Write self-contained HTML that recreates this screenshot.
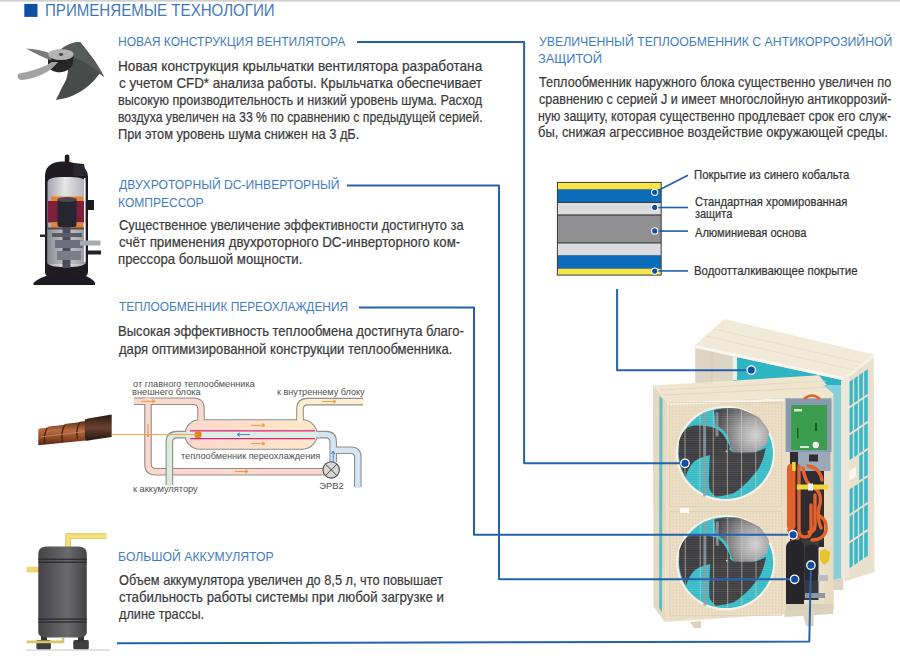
<!DOCTYPE html>
<html><head><meta charset="utf-8"><style>
html,body{margin:0;padding:0;background:#fff;}
#c{position:relative;width:900px;height:669px;overflow:hidden;background:#fff;}
.t{position:absolute;white-space:pre;font-family:"Liberation Sans",sans-serif;line-height:1;transform-origin:0 0;}
.b{-webkit-text-stroke:0.2px currentColor;}
svg{position:absolute;left:0;top:0;}
</style></head><body><div id="c">
<svg width="900" height="669" viewBox="0 0 900 669">
<defs>
  <radialGradient id="metal" gradientUnits="userSpaceOnUse" cx="26" cy="-20" r="38" fx="30" fy="-18">
    <stop offset="0" stop-color="#d2d2d3"/><stop offset="0.4" stop-color="#a4a4a6"/><stop offset="0.8" stop-color="#626264"/><stop offset="1" stop-color="#444446"/>
  </radialGradient>
  <linearGradient id="acc" x1="0" y1="0" x2="1" y2="0">
    <stop offset="0" stop-color="#444446"/><stop offset="0.6" stop-color="#6a6a6c"/><stop offset="1" stop-color="#434345"/>
  </linearGradient>
  <linearGradient id="vessel" x1="0" y1="0" x2="1" y2="0">
    <stop offset="0" stop-color="#fbd8cc"/><stop offset="1" stop-color="#fde8c9"/>
  </linearGradient>
  <linearGradient id="copper" x1="0" y1="0" x2="0" y2="1">
    <stop offset="0" stop-color="#5e2c16"/><stop offset="0.4" stop-color="#b86c44"/><stop offset="0.7" stop-color="#8e4a28"/><stop offset="1" stop-color="#5a2810"/>
  </linearGradient>
  <linearGradient id="sheath" x1="0" y1="0" x2="0" y2="1">
    <stop offset="0" stop-color="#2a1a12"/><stop offset="0.5" stop-color="#6a4030"/><stop offset="1" stop-color="#241610"/>
  </linearGradient>
</defs>
<!-- top gray rule -->
<rect x="0" y="0" width="900" height="1.6" fill="#cfcfcf"/>
<!-- title square -->
<rect x="24.3" y="3.9" width="13.2" height="13" fill="#0f4fa2"/>


<!-- ===== fan impeller ===== -->
<g id="impeller">
  <!-- big dark blade -->
  <path d="M60,50 C66,45 74,42 80,42.1 C88,52 98,64 104.2,77.1 L99.5,73.7 C96,78 93,82 90.8,83.8 C86,88 82,91 77.3,93.3 C72,96 68,98 63.8,98.6 L55.8,100 C58,96 60,92 61.1,89.2 C64,84 66,80 66.5,78.5 C67.5,75 68,72 67.9,70.4 C67.5,67 67,65 66.5,63.6 Z" fill="#474b4a"/>
  <path d="M62,48.5 C68,44.5 74,42 80,42.1 C88,52 98,64 104.2,77.1 C94,68 84,60 70,56 Z" fill="#575b59"/>
  <!-- hub body -->
  <path d="M48,54 L48,66 C50,71 56,73 62,72 C68,71 72,67 73,63 L74,54 Z" fill="#262626"/>
  <!-- left thin blade -->
  <path d="M26,48.6 C34,49 44,50.5 52,54.5 L51,60.5 C42,57 34,53 26,48.6 Z" fill="#7a7a7a"/>
  <!-- lower-left light blade -->
  <path d="M18,74 C24,72 40,70 52,62 L58,62 C52,70 40,78 22,80 C18,80 17,77 18,74 Z" fill="#a3a3a3"/>
  <!-- hub top -->
  <ellipse cx="61" cy="54.5" rx="12.6" ry="5.6" fill="#b4b4b4"/>
  <ellipse cx="61" cy="54.5" rx="2.2" ry="1.4" fill="#4a4a4a"/>
</g>

<!-- ===== compressor ===== -->
<g id="compressor">
  <linearGradient id="cgray" x1="0" y1="0" x2="1" y2="0">
    <stop offset="0" stop-color="#a4a4aa"/><stop offset="0.45" stop-color="#e6e6e8"/><stop offset="1" stop-color="#b0b0b6"/>
  </linearGradient>
  <linearGradient id="cgray2" x1="0" y1="0" x2="1" y2="0">
    <stop offset="0" stop-color="#8a8a92"/><stop offset="0.5" stop-color="#c8c8cc"/><stop offset="1" stop-color="#9a9aa2"/>
  </linearGradient>
  <rect x="64.8" y="154.5" width="4.6" height="14" rx="2" fill="#1f1c26"/>
  <path d="M33.5,283 C36,280 40,278 46,276 L86,276 C90,278 94,280 95,283 L95,285 L33.5,285 Z" fill="#1d1a24"/>
  <path d="M45,176 C45,168 50,163 58,162 C66,161 70,162 74,163 L80,165 C86,168 88,172 88,178 L88,272 C88,277 82,279 66,279 C50,279 45,277 45,272 Z" fill="#1e1b25"/>
  <path d="M74,163 L84,164 L86,176 L74,176 Z" fill="#2a2732"/>
  <path d="M47.5,182 C48,178 54,177 66,177 C78,177 85,178 85.5,182 L85.5,262 C85.5,266 78,267 66,267 C54,267 47.5,266 47.5,262 Z" fill="url(#cgray)"/>
  <rect x="47.5" y="229" width="38" height="35" fill="url(#cgray2)"/>
  <rect x="48" y="201" width="38" height="21.5" fill="#7e1f3c"/>
  <rect x="51" y="196.5" width="32" height="4.5" fill="#e9832e"/>
  <rect x="51" y="222.5" width="32" height="5.5" fill="#e9832e"/>
  <rect x="57.5" y="198" width="19" height="29" rx="2.5" fill="#27252f"/>
  <ellipse cx="67" cy="199.5" rx="9.5" ry="2.5" fill="#4a4852"/>
  <rect x="62.5" y="227" width="8" height="41" fill="#4a4c58"/>
  <rect x="52" y="233" width="30" height="4" fill="#5a5c68"/>
  <rect x="55" y="240" width="28" height="8" fill="#6e7080"/>
  <rect x="57" y="251" width="24" height="9" fill="#7a7c8a"/>
  <rect x="47.5" y="227.5" width="38" height="2" fill="#4f4d58"/>
  <rect x="84" y="178" width="1.5" height="84" fill="#f4f4f6"/>
  <rect x="88" y="200" width="6" height="10" fill="#1e1b25"/>
  <rect x="80" y="240.5" width="20.5" height="5" fill="#a8aab2"/>
  <rect x="88" y="250.5" width="13" height="4" fill="#24212b"/>
  <rect x="40" y="234.5" width="6" height="2.5" fill="#24212b"/>
</g>
<!-- ===== accumulator ===== -->
<g id="accum">
  <line x1="26" y1="650" x2="110" y2="650" stroke="#dadada" stroke-width="1.6"/>
  <path d="M68.2,547 V536.2 H106.3" fill="none" stroke="#dcc35a" stroke-width="5.8"/>
  <path d="M68.2,547 V536.2 H106.3" fill="none" stroke="#f4df78" stroke-width="4"/>
  <rect x="26.7" y="566.7" width="12" height="5.8" fill="#eed66e"/>
  <rect x="36.4" y="640" width="14.5" height="9.3" rx="1.5" fill="#3f3f41"/>
  <rect x="73.3" y="640" width="15.5" height="9.3" rx="1.5" fill="#3f3f41"/>
  <rect x="41" y="636" width="6" height="6" fill="#333"/><rect x="78" y="636" width="6" height="6" fill="#333"/>
  <path d="M38.3,554 C38.3,548 42,546.4 50,546.4 L75,546.4 C83,546.4 86.8,548 86.8,554 L86.8,632 C86.8,636 83,637.6 78,637.6 L47,637.6 C42,637.6 38.3,636 38.3,632 Z" fill="url(#acc)"/>
  <rect x="38.3" y="558.6" width="48.5" height="1.3" fill="#2c2c2e"/><rect x="38.3" y="561.6" width="48.5" height="1.3" fill="#2c2c2e"/>
  <rect x="38.3" y="618.4" width="48.5" height="1.3" fill="#2c2c2e"/><rect x="38.3" y="621.4" width="48.5" height="1.3" fill="#2c2c2e"/>
  <path d="M26.7,641.9 H63 V638" fill="none" stroke="#d9c46a" stroke-width="2.6"/>
</g>

<!-- ===== layer box ===== -->
<g id="layers">
  <rect x="556.9" y="181.9" width="104.8" height="93.7" fill="#3a3a3a"/>
  <rect x="557.9" y="182.9" width="102.8" height="6.6" fill="#f8e446"/>
  <rect x="557.9" y="189.5" width="102.8" height="12.6" fill="#0b6cb9"/>
  <rect x="557.9" y="203" width="102.8" height="11.4" fill="#dcdbde"/>
  <rect x="557.9" y="215.6" width="102.8" height="26.8" fill="#8f8f92"/>
  <rect x="557.9" y="243.5" width="102.8" height="12" fill="#dcdbde"/>
  <rect x="557.9" y="255.5" width="102.8" height="13.2" fill="#0b6cb9"/>
  <rect x="557.9" y="268.7" width="102.8" height="5.9" fill="#f8e446"/>
  <g fill="none" stroke="#1f5caa" stroke-width="1.6">
    <path d="M658,190.5 L688,175.2"/>
    <path d="M658,207.5 H688"/><path d="M658,231.1 H688"/><path d="M658,270.9 H688"/>
  </g>
  <g fill="#0f4ea0" stroke="#ffffff" stroke-width="1.1">
    <circle cx="654.7" cy="192.3" r="3.1"/><circle cx="654.7" cy="207.4" r="3.1"/>
    <circle cx="654.7" cy="230.9" r="3.1"/><circle cx="654.7" cy="271.1" r="3.1"/>
  </g>
</g>


<!-- ===== subcooling diagram ===== -->
<g id="diagram">
  <!-- pink pipes outline -->
  <g fill="none" stroke-linejoin="round" stroke-linecap="butt">
    <path d="M134,401.3 H193 Q201,401.3 201,409 V422" stroke="#8e8e8e" stroke-width="7.6"/>
    <path d="M148,401.3 V464 Q148,471.7 156,471.7 H324" stroke="#8e8e8e" stroke-width="7.6"/>
    <path d="M134,401.3 H193 Q201,401.3 201,409 V424" stroke="#fbd8cc" stroke-width="5.4"/>
    <path d="M148,398 V464 Q148,471.7 156,471.7 H324" stroke="#fbd8cc" stroke-width="5.4"/>
    <!-- top right yellow pipe -->
    <path d="M300,422 V409 Q300,401.6 308,401.6 H363" stroke="#8e8e8e" stroke-width="7.6"/>
    <path d="M300,424 V409 Q300,401.6 308,401.6 H364" stroke="#fdeed0" stroke-width="5.4"/>
    <!-- green pipe -->
    <path d="M190,434.6 H177 Q169.4,434.6 169.4,442 V485" stroke="#8e8e8e" stroke-width="7.6"/>
    <path d="M192,434.6 H177 Q169.4,434.6 169.4,442 V486" stroke="#dcebd8" stroke-width="5.4"/>
    <!-- blue pipes -->
    <path d="M312,434.6 H326 Q333.2,434.6 333.2,442 V462" stroke="#8e8e8e" stroke-width="7.6"/>
    <path d="M333,450.2 H351 Q357.8,450.2 357.8,457 V487" stroke="#8e8e8e" stroke-width="7.6"/>
    <path d="M312,434.6 H326 Q333.2,434.6 333.2,442 V462" stroke="#d3e5f2" stroke-width="5.4"/>
    <path d="M336,450.2 H351 Q357.8,450.2 357.8,457 V488" stroke="#d3e5f2" stroke-width="5.4"/>
  </g>
  <!-- vessel -->
  <rect x="185" y="419.8" width="132" height="29.4" rx="14.7" fill="url(#vessel)" stroke="#8e8e8e" stroke-width="1.1"/>
  <rect x="198.3" y="417" width="5.4" height="5" fill="#fbd8cc"/>
  <rect x="297.3" y="417" width="5.4" height="5" fill="#fdeed0"/>
  <rect x="183" y="431.9" width="10" height="5.4" fill="#dcebd8"/>
  <rect x="310" y="431.9" width="10" height="5.4" fill="#d3e5f2"/>
  <rect x="187" y="431" width="129" height="7.4" fill="#dceee4"/>
  <path d="M190,430.8 H315 M190,438.6 H315" stroke="#e0207a" stroke-width="1.3"/>
  <!-- arrows -->
  <g stroke="#f0902a" stroke-width="0.9" fill="none">
    <path d="M141,401.3 H155 M152,399.6 L155,401.3 L152,403"/>
    <path d="M148,424 V437 M146.4,434 L148,437 L149.6,434"/>
    <path d="M251,425.3 H265 M262,423.6 L265,425.3 L262,427"/>
    <path d="M251,443.6 H265 M262,441.9 L265,443.6 L262,445.3"/>
    <path d="M322,401.6 H336 M333,399.9 L336,401.6 L333,403.3"/>
    <path d="M235,471.5 H248 M245,469.8 L248,471.5 L245,473.2"/>
  </g>
  <g stroke="#2a7ad0" stroke-width="0.9" fill="none">
    <path d="M237,434.6 H250 M240,432.9 L237,434.6 L240,436.3"/>
    <path d="M333.2,463 V451 M331.5,454 L333.2,451 L334.9,454"/>
  </g>
  <!-- valve -->
  <circle cx="331.2" cy="469.9" r="8.2" fill="#d6d6d6" stroke="#4a4a4a" stroke-width="1.1"/>
  <path d="M325.4,464.1 L337,475.7 M337,464.1 L325.4,475.7" stroke="#4a4a4a" stroke-width="1"/>
  <circle cx="198" cy="434.7" r="3.6" fill="#ea7e18"/>
</g>

<!-- ===== copper tube ===== -->
<g id="copper">
  <path d="M38.3,429.5 L40,428.6 L46,428 L49,426.5 L63,425 L66,423.8 L78,422.4 L81,421.5 L91,420.8 L91,440.1 L38.3,445.2 Z" fill="url(#copper)"/>
  <path d="M47,428 q-4,8 -2,16 M64.5,425.2 q-4,8 -2,16.3 M79.5,422.5 q-4,8 -2,16.5" stroke="#4a1e0a" stroke-width="1.3" fill="none"/>
  <path d="M40,437 L90,431" stroke="#d89a70" stroke-width="1.2" opacity="0.6"/>
  <path d="M84.8,419.5 L88,418.5 L111.7,414.4 L111.7,437 L86,440.7 L84.8,436 Z" fill="url(#sheath)"/>
  <line x1="111.7" y1="434.6" x2="198" y2="434.6" stroke="#f0a050" stroke-width="1"/>
</g>


<!-- ===== outdoor unit ===== -->
<defs>
  <g id="fan">
    <rect x="-56" y="-51" width="112" height="104" fill="url(#perf)" stroke="#d8ccb2" stroke-width="0.6"/><ellipse cx="0" cy="0" rx="49.6" ry="47.7" fill="#f6f2e8"/>
    <ellipse cx="0" cy="0" rx="47.4" ry="45.5" fill="#38bcc6"/>
    <!-- metallic top-right blade -->
    <path d="M-11.4,-43.2 C-4,-45 4,-45.5 12.1,-44.8 C22,-42 30,-38 34.1,-35.3 C40,-28 43,-24 43.5,-21.2 C43,-16 42,-13 41.9,-10.2 C38,-6 34,-4 30.9,-2.4 C24,0 18,1 12.1,0.8 C8,-1 6,-3 5.8,-5.5 C4,-10 3,-14 2.7,-16.5 C1,-20 -1,-22 -2,-22.8 C-6,-26 -9,-28 -9.9,-29.1 Z" fill="url(#metal)"/>
    <!-- bottom dark blade -->
    <path d="M-14,-4 C-6,-8 0,-8 2,-6 C5,-3 7,-1 9,-0.8 C15,-0.5 22,-0.8 27.8,-0.8 C33,-2 37,-4 40.3,-5.5 C39,1 37,8 34.1,13.3 C30,20 25,25 21.5,29 C16,34 11,38 7.4,40 C0,42 -5,43 -9.9,43.1 C-13,41 -15,38 -16.1,35.3 C-17,28 -16.5,20 -16.1,13.3 C-16,5 -15.5,0 -14,-4 Z" fill="#3f3f42"/>
    <!-- left dark blade -->
    <path d="M-46.5,-12 C-44,-20 -41,-24 -37,-26.5 C-30,-28.5 -20,-28.5 -8.3,-24.4 C-2,-20 1,-14 4.3,-7.1 C4,-3 1,0 -2,0 C-10,0 -22,2 -30,7 C-35,11 -38,17 -40,24 C-44,16 -46.5,8 -46.8,0 Z" fill="#3c3c3f"/>
    <rect x="-22.4" y="-41" width="3" height="84" fill="#8d9aa3" opacity="0.8"/>
    <rect x="-10" y="-41" width="3" height="24" fill="#8d9aa3" opacity="0.8"/>
    <circle cx="1" cy="-2" r="0.9" fill="#dddddd"/>
    <ellipse cx="0" cy="0" rx="47.4" ry="45.5" fill="url(#mesh)"/>
    <g stroke="#d2cbbb" stroke-width="0.9" opacity="0.7">
      <line x1="-40.5" y1="-24" x2="-40.5" y2="24"/><line x1="-25.6" y1="-38" x2="-25.6" y2="38"/>
      <line x1="-12.2" y1="-44" x2="-12.2" y2="44"/><line x1="1.9" y1="-45" x2="1.9" y2="45"/>
      <line x1="16" y1="-43" x2="16" y2="43"/><line x1="30.2" y1="-35" x2="30.2" y2="35"/>
    </g>
  </g>
  <pattern id="mesh" width="3" height="2.2" patternUnits="userSpaceOnUse">
    <rect x="0" y="0" width="3" height="0.6" fill="#ffffff" opacity="0.13"/>
  </pattern>
  <pattern id="perf" width="3.2" height="3.2" patternUnits="userSpaceOnUse">
    <circle cx="1.6" cy="1.6" r="0.55" fill="#cdbf9f" opacity="0.55"/>
  </pattern>
</defs>
<g id="unit">
  <!-- back unit right side face -->
  <path d="M844.4,380.5 L873.7,357.5 L874.5,572 L844.4,581.5 Z" fill="#e8dfcc"/>
  <g fill="#36b8c8">
    <polygon points="849.2,381.8 852.8,379.3 852.8,403.8 849.2,406.3"/>
    <polygon points="854.2,378.4 857.8,376.0 857.8,400.5 854.2,402.9"/>
    <polygon points="859.2,375.0 862.8,372.6 862.8,397.1 859.2,399.5"/>
    <polygon points="864.2,371.6 867.8,369.2 867.8,393.7 864.2,396.1"/>
    <polygon points="849.2,408.8 852.8,406.3 852.8,430.8 849.2,433.3"/>
    <polygon points="854.2,405.4 857.8,403.0 857.8,427.5 854.2,429.9"/>
    <polygon points="859.2,402.0 862.8,399.6 862.8,424.1 859.2,426.5"/>
    <polygon points="864.2,398.6 867.8,396.2 867.8,420.7 864.2,423.1"/>
    <polygon points="849.2,435.8 852.8,433.3 852.8,457.8 849.2,460.3"/>
    <polygon points="854.2,432.4 857.8,430.0 857.8,454.5 854.2,456.9"/>
    <polygon points="859.2,429.0 862.8,426.6 862.8,451.1 859.2,453.5"/>
    <polygon points="864.2,425.6 867.8,423.2 867.8,447.7 864.2,450.1"/>
    <polygon points="859.2,456.0 862.8,453.6 862.8,478.1 859.2,480.5"/>
    <polygon points="864.2,452.6 867.8,450.2 867.8,474.7 864.2,477.1"/>
    <polygon points="849.2,489.8 852.8,487.3 852.8,511.8 849.2,514.3"/>
    <polygon points="854.2,486.4 857.8,484.0 857.8,508.5 854.2,510.9"/>
    <polygon points="859.2,483.0 862.8,480.6 862.8,505.1 859.2,507.5"/>
    <polygon points="864.2,479.6 867.8,477.2 867.8,501.7 864.2,504.1"/>
    <polygon points="849.2,516.8 852.8,514.3 852.8,538.8 849.2,541.3"/>
    <polygon points="854.2,513.4 857.8,511.0 857.8,535.5 854.2,537.9"/>
    <polygon points="859.2,510.0 862.8,507.6 862.8,532.1 859.2,534.5"/>
    <polygon points="864.2,506.6 867.8,504.2 867.8,528.7 864.2,531.1"/>
    <polygon points="849.2,543.8 852.8,541.3 852.8,565.8 849.2,568.3"/>
    <polygon points="854.2,540.4 857.8,538.0 857.8,562.5 854.2,564.9"/>
    <polygon points="859.2,537.0 862.8,534.6 862.8,559.1 859.2,561.5"/>
    <polygon points="864.2,533.6 867.8,531.2 867.8,555.7 864.2,558.1"/>
  </g>
  <path d="M849,471 l7,-4.5 l0,10 l-7,4.5 Z" fill="#f8f6f2"/>
  <!-- back unit front face -->
  <path d="M695.2,345 L843.3,377.7 L843.3,590 L695.2,590 Z" fill="#ddd5c4"/>
  <path d="M733,356 L844.4,380.5 L844.4,578 L733,578 Z" fill="#2fb4c4"/>
  <path d="M732.7,356 L737.1,357 L737.1,380 L732.7,380 Z" fill="#eef0ea"/>
  <line x1="712" y1="350" x2="712" y2="390" stroke="#d5c9b0" stroke-width="1"/>
  <!-- back unit lid -->
  <path d="M724.3,318.9 L873.7,354.6 L844.4,377.6 L695.2,345 Z" fill="#f2ead8"/>
  <path d="M695.2,345 L844.4,377.6 L844.4,380.5 L695.2,348 Z" fill="#faf6ee"/>
  <path d="M844.4,377.6 L873.7,354.6 L873.7,357.5 L844.4,380.5 Z" fill="#f6f0e4"/>
  <g stroke="#e6dcc4" stroke-width="0.8">
    <line x1="714" y1="329" x2="862" y2="363"/>
    <line x1="706" y1="336" x2="854" y2="370"/>
  </g>

  <!-- front unit left side face -->
  <path d="M653,385.5 L667.5,402.5 L665,622 L653.4,606.5 Z" fill="#e6d9c0"/>
  <path d="M659.5,396 L662.5,399 L662,612 L659,608 Z" fill="#5fbec6"/>
  <!-- front face -->
  <path d="M667.5,402.5 L833.6,397 L833,611 L665,622 Z" fill="#ecdfc6"/>
  <!-- front lid -->
  <path d="M653,385.5 L819,375.3 L833.6,393.8 L833.6,397 L667.5,402.5 Z" fill="#f0e5cf"/>
  <path d="M667.5,402.5 L833.6,397 L833.6,399.5 L667.5,405 Z" fill="#f8f3e8"/>
  <g stroke="#e0d4ba" stroke-width="0.8">
    <line x1="660" y1="390" x2="826" y2="381"/>
    <line x1="664" y1="395" x2="830" y2="387"/>
  </g>
  <path d="M670,406 L784,402 L784,614 L668,620 Z" fill="url(#perf)"/>
  <use href="#fan" transform="translate(725.5,453.4)"/>
  <use href="#fan" transform="translate(725.8,562.6)"/>
  <rect x="680" y="508" width="9" height="5" fill="#fbfaf6"/>
  <!-- machine compartment -->
  <path d="M784.5,398.5 L833.6,397 L833.6,611 L784.5,614 Z" fill="#eadcc4"/>
  <rect x="786" y="452" width="38" height="154" fill="#e6ddca"/><rect x="790" y="452" width="34" height="95" fill="#2e2c30"/><rect x="801" y="540" width="18" height="60" fill="#3a393e"/>
  <rect x="824" y="398" width="9.6" height="212" fill="#e8dbc2"/>
  <rect x="785.6" y="398.4" width="45.9" height="53.6" fill="#8a9aae"/>
  <rect x="791.2" y="405" width="35.8" height="45" fill="#3a9e4e"/>
  <rect x="794" y="409" width="8" height="2.5" fill="#d8e8d0"/>
  <rect x="797" y="428" width="1.5" height="10" fill="#1e5a2a"/>
  <rect x="815" y="423" width="2" height="8" fill="#1e5a2a"/>
  <rect x="800" y="446" width="9" height="2" fill="#d8e8d0"/>
  <circle cx="815.8" cy="445" r="3.2" fill="#efefef"/>
  <rect x="798" y="452" width="32.4" height="19" fill="#9aa8b8"/>
  <rect x="809" y="454.5" width="9" height="7" fill="#2e2e34"/>
  <path d="M804,399 Q812,392 820,399" fill="none" stroke="#e2602a" stroke-width="2.5"/>
  <rect x="786" y="452" width="2" height="154" fill="#e8dfcc"/>
  <g fill="none" stroke="#e3622c" stroke-linecap="round">
    <path d="M791.2,468 V526" stroke-width="8.5"/>
    <path d="M799,466 V530 Q799,537 805,537 Q811,537 811,530 V505" stroke-width="3.4"/>
    <path d="M803,468 Q805,484 814,488 Q822,492 820,504 Q816,516 821,528" stroke-width="3.4"/>
    <path d="M808,466 Q820,468 822,480" stroke-width="3.4"/>
    <path d="M815,495 V525 Q815,532 809,532" stroke-width="3.4"/>
    <path d="M789,530 Q790,538 798,538" stroke-width="3.4"/>
    <path d="M812,540 Q824,540 826,530 Q827,520 820,516" stroke-width="3.4"/>
    <path d="M793,534 V541" stroke-width="3.4"/>
  </g>
  <rect x="796.8" y="484.5" width="31.3" height="5" fill="#ecd63c"/>
  <rect x="808" y="483.5" width="5" height="7" fill="#f2f2f2"/>
  <rect x="792" y="462" width="3.7" height="9" fill="#e8d43a"/>
  <path d="M786,548 C786,542 791,540 795,540 C800,540 804,542 804,548 L804,604 C804,607 800,608 795,608 C790,608 786,607 786,604 Z" fill="#262529"/>
  <path d="M805,550 C805,546 808,544.8 811.6,544.8 C815,544.8 818.2,546 818.2,550 L818.2,578 C818.2,580 815,581 811.6,581 C808,581 805,580 805,578 Z" fill="#29282c"/>
  <rect x="818.5" y="548" width="5.5" height="58" fill="#e8dfcc"/>
  <path d="M820,551 l5,-2 l5,3 l-1,9 l-5,4 l-4,-5 Z" fill="#e6c52c"/>
  <rect x="818" y="575" width="10" height="6" fill="#b8bcc4"/>
  <rect x="805" y="593" width="20" height="5" fill="#8a96a4"/>
  <rect x="786" y="604" width="47" height="7" fill="#d9cfba"/>
  <!-- teal strip right of compartment -->
  <path d="M823,385 L841,385 L841,577.3 L833.6,580 L833.6,393.8 Z" fill="#86d0da"/><path d="M841,381 L849.4,375 L849.4,578 L841,579 Z" fill="#efe8da"/>
  <!-- feet -->
  <path d="M690,622 L701,621 L701,628 L694,628 Z" fill="#ddd2bb"/>
  <path d="M802.6,614 L813.6,614 L813.6,626 L806,626 Z" fill="#ddd2bb"/>
  <path d="M784.5,611 L833,608 L833,614 L784.5,617 Z" fill="#ddd2bb"/>
</g>

<!-- connector lines -->
<g fill="none" stroke="#2462ae" stroke-width="2" stroke-linejoin="round">
  <path d="M357,42.1 H524.1 V463.3 H685"/>
  <path d="M347,185.5 H499 V579.3 H794.6"/>
  <path d="M359,307.4 H474 V534.7 H793"/>
  <path d="M116.8,643.3 L809.3,641.6 L810.9,565.2"/>
  <path d="M617.1,289 V370.3 H751.3"/>
</g>

<g fill="#0f4ea0" stroke="#ffffff" stroke-width="1.3">
  <circle cx="751.3" cy="370.1" r="4.2"/>
  <circle cx="685" cy="463.3" r="4.2"/>
  <circle cx="793.1" cy="534.7" r="4.2"/>
  <circle cx="794.6" cy="579.3" r="4.2"/>
  <circle cx="810.9" cy="565.2" r="4.2"/>
</g>
</svg>

<div class='t' style='left:45.07px;top:2.29px;font-size:16.2px;color:#3f78bf;transform:scaleX(0.9316)'>ПРИМЕНЯЕМЫЕ ТЕХНОЛОГИИ</div>
<div class='t' style='left:118.17px;top:36.08px;font-size:12.9px;color:#3f7dc2;transform:scaleX(0.9347)'>НОВАЯ КОНСТРУКЦИЯ ВЕНТИЛЯТОРА</div>
<div class='t' style='left:118.60px;top:178.58px;font-size:12.9px;color:#3f7dc2;transform:scaleX(0.9416)'>ДВУХРОТОРНЫЙ DC-ИНВЕРТОРНЫЙ</div>
<div class='t' style='left:117.66px;top:196.68px;font-size:12.9px;color:#3f7dc2;transform:scaleX(0.9356)'>КОМПРЕССОР</div>
<div class='t' style='left:118.80px;top:300.68px;font-size:12.9px;color:#3f7dc2;transform:scaleX(0.9226)'>ТЕПЛООБМЕННИК ПЕРЕОХЛАЖДЕНИЯ</div>
<div class='t' style='left:117.85px;top:550.88px;font-size:12.9px;color:#3f7dc2;transform:scaleX(0.9494)'>БОЛЬШОЙ АККУМУЛЯТОР</div>
<div class='t' style='left:538.60px;top:36.28px;font-size:12.9px;color:#3f7dc2;transform:scaleX(0.9516)'>УВЕЛИЧЕННЫЙ ТЕПЛООБМЕННИК С АНТИКОРРОЗИЙНОЙ</div>
<div class='t' style='left:537.60px;top:53.18px;font-size:12.9px;color:#3f7dc2;transform:scaleX(0.9952)'>ЗАЩИТОЙ</div>
<div class='t b' style='left:117.62px;top:59.83px;font-size:13.9px;color:#3a3a3a;transform:scaleX(0.9816)'>Новая конструкция крыльчатки вентилятора разработана</div>
<div class='t b' style='left:118.60px;top:77.03px;font-size:13.9px;color:#3a3a3a;transform:scaleX(0.9629)'>с учетом CFD* анализа работы. Крыльчатка обеспечивает</div>
<div class='t b' style='left:117.69px;top:94.13px;font-size:13.9px;color:#3a3a3a;transform:scaleX(0.9120)'>высокую производительность и низкий уровень шума. Расход</div>
<div class='t b' style='left:117.72px;top:111.43px;font-size:13.9px;color:#3a3a3a;transform:scaleX(0.8816)'>воздуха увеличен на 33 % по сравнению с предыдущей серией.</div>
<div class='t b' style='left:117.68px;top:128.43px;font-size:13.9px;color:#3a3a3a;transform:scaleX(0.9236)'>При этом уровень шума снижен на 3 дБ.</div>
<div class='t b' style='left:118.60px;top:219.03px;font-size:13.9px;color:#3a3a3a;transform:scaleX(0.9255)'>Существенное увеличение эффективности достигнуто за</div>
<div class='t b' style='left:118.60px;top:236.23px;font-size:13.9px;color:#3a3a3a;transform:scaleX(0.9584)'>счёт применения двухроторного DC-инверторного ком-</div>
<div class='t b' style='left:117.65px;top:253.33px;font-size:13.9px;color:#3a3a3a;transform:scaleX(0.9490)'>прессора большой мощности.</div>
<div class='t b' style='left:117.66px;top:325.33px;font-size:13.9px;color:#3a3a3a;transform:scaleX(0.9380)'>Высокая эффективность теплообмена достигнута благо-</div>
<div class='t b' style='left:118.60px;top:342.53px;font-size:13.9px;color:#3a3a3a;transform:scaleX(0.9401)'>даря оптимизированной конструкции теплообменника.</div>
<div class='t b' style='left:118.60px;top:574.13px;font-size:13.9px;color:#3a3a3a;transform:scaleX(0.9178)'>Объем аккумулятора увеличен до 8,5 л, что повышает</div>
<div class='t b' style='left:118.60px;top:591.23px;font-size:13.9px;color:#3a3a3a;transform:scaleX(0.9558)'>стабильность работы системы при любой загрузке и</div>
<div class='t b' style='left:118.60px;top:608.33px;font-size:13.9px;color:#3a3a3a;transform:scaleX(0.9174)'>длине трассы.</div>
<div class='t b' style='left:538.60px;top:75.63px;font-size:13.9px;color:#3a3a3a;transform:scaleX(0.9172)'>Теплообменник наружного блока существенно увеличен по</div>
<div class='t b' style='left:538.60px;top:92.63px;font-size:13.9px;color:#3a3a3a;transform:scaleX(0.9031)'>сравнению с серией J и имеет многослойную антикоррозий-</div>
<div class='t b' style='left:537.71px;top:109.53px;font-size:13.9px;color:#3a3a3a;transform:scaleX(0.8916)'>ную защиту, которая существенно продлевает срок его служ-</div>
<div class='t b' style='left:537.67px;top:126.33px;font-size:13.9px;color:#3a3a3a;transform:scaleX(0.9310)'>бы, снижая агрессивное воздействие окружающей среды.</div>
<div class='t b' style='left:693.68px;top:168.90px;font-size:12.4px;color:#333333;transform:scaleX(0.9208)'>Покрытие из синего кобальта</div>
<div class='t b' style='left:694.60px;top:195.90px;font-size:12.4px;color:#333333;transform:scaleX(0.9048)'>Стандартная хромированная</div>
<div class='t b' style='left:694.60px;top:208.10px;font-size:12.4px;color:#333333;transform:scaleX(0.8837)'>защита</div>
<div class='t b' style='left:694.60px;top:227.00px;font-size:12.4px;color:#333333;transform:scaleX(0.8952)'>Алюминиевая основа</div>
<div class='t b' style='left:693.68px;top:265.20px;font-size:12.4px;color:#333333;transform:scaleX(0.9210)'>Водоотталкивающее покрытие</div>
<div class='t' style='left:132.70px;top:378.64px;font-size:9.4px;color:#505050;transform:scaleX(0.9768)'>от главного теплообменника</div>
<div class='t' style='left:131.71px;top:386.54px;font-size:9.4px;color:#505050;transform:scaleX(0.9870)'>внешнего блока</div>
<div class='t' style='left:277.30px;top:386.64px;font-size:9.4px;color:#505050;transform:scaleX(0.9703)'>к внутреннему блоку</div>
<div class='t' style='left:180.80px;top:451.34px;font-size:9.4px;color:#505050;transform:scaleX(0.9720)'>теплообменник переохлаждения</div>
<div class='t' style='left:132.70px;top:483.94px;font-size:9.4px;color:#505050;transform:scaleX(0.9864)'>к аккумулятору</div>
<div class='t' style='left:319.20px;top:481.34px;font-size:9.4px;color:#505050;transform:scaleX(1.0000)'>ЭРВ2</div>
</div></body></html>
